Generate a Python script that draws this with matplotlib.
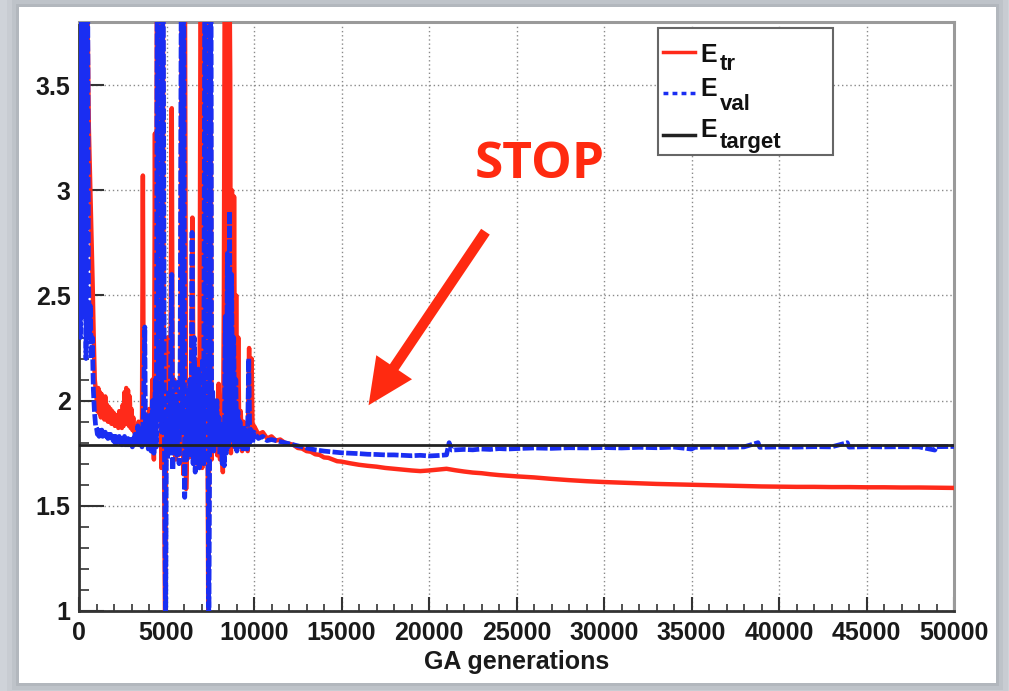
import matplotlib
matplotlib.use("Agg")
import matplotlib.pyplot as plt
from matplotlib.patches import Rectangle, FancyArrowPatch
from matplotlib.ticker import MultipleLocator

plt.rcParams["font.family"] = ["Liberation Sans", "DejaVu Sans"]
plt.rcParams["font.weight"] = "bold"

# ---- data (values above 3.8 run off the top of the frame) ----
TR_X = [0, 400, 560, 720, 780, 840, 900, 960,
        1000, 1050, 1100, 1150, 1200, 1250, 1300, 1350, 1400, 1450, 1500, 1550, 1600, 1650,
        1700, 1750, 1800, 1850, 1900, 1950, 2000, 2050, 2100, 2150, 2200, 2250, 2300, 2350,
        2400, 2450, 2500, 2550, 2600, 2650, 2700, 2750, 2800, 2850, 2900, 2950, 3000, 3050,
        3100, 3150,
        3200, 3300, 3400, 3500, 3600, 3650, 3700, 3800, 3900, 4000, 4100, 4200, 4280, 4340,
        4400, 4460, 4540, 4620, 4700, 4780, 4860, 4920, 4980, 5060, 5140, 5220, 5300, 5360,
        5440, 5520, 5600, 5700, 5800, 5880, 5960, 6040, 6120, 6200, 6300, 6400, 6480, 6560,
        6640, 6720, 6800, 6880, 6960, 7040, 7120, 7200, 7280, 7350, 7390, 7440, 7500, 7580,
        7660, 7740, 7820, 7900, 7980, 8060, 8140, 8220, 8280, 8340, 8420, 8480, 8560, 8640,
        8680, 8740, 8800, 8860, 8920, 8980, 9040, 9100, 9160, 9240, 9320, 9400, 9480, 9560,
        9640, 9720, 9780, 9860, 9920, 10000, 10250, 10500, 10750, 11000, 11250, 11500, 11750,
        12000, 12250, 12500, 12750, 13000, 13250, 13500, 13750, 14000, 14250, 14500, 14750,
        15000, 15500, 16000, 16500, 17000, 17500, 18000, 18500, 19000, 19500, 20000, 20500,
        21000, 21500, 22000, 22500, 23000, 23500, 24000, 24500, 25000, 26000, 27000, 28000,
        29000, 30000, 31000, 32000, 33000, 34000, 35000, 36000, 37000, 38000, 39000, 40000,
        41000, 42000, 43000, 44000, 45000, 46000, 47000, 48000, 49000, 50000]
TR_Y = [4.5, 4.5, 3.3, 2.75, 2.55, 2.3, 2.1, 2.05,
        2.02, 1.95, 2.06, 1.94, 2.04, 1.92, 2.03, 1.93, 2.00, 1.91, 2.02, 1.92, 1.98, 1.90,
        1.97, 1.90, 1.96, 1.89, 1.95, 1.89, 1.94, 1.88, 1.93, 1.88, 1.92, 1.87, 1.95, 1.88,
        1.93, 1.87, 1.98, 1.88, 2.04, 1.90, 2.06, 1.89, 2.05, 1.88, 2.02, 1.87, 1.96, 1.86,
        1.92, 1.85,
        1.86, 1.84, 1.90, 1.82, 1.88, 3.07, 1.83, 1.92, 1.80, 1.96, 1.79, 2.10, 1.72, 3.27,
        1.78, 4.5, 1.95, 4.5, 1.68, 4.5, 1.75, 0.9, 1.95, 2.30, 1.78, 2.00, 3.39, 1.75,
        2.10, 1.72, 2.05, 1.74, 2.15, 4.5, 1.65, 4.5, 1.58, 1.90, 1.73, 2.05, 2.87, 1.75,
        2.20, 1.70, 2.00, 1.72, 4.5, 1.68, 1.95, 1.70, 4.5, 1.80, 0.9, 1.90, 4.5, 1.72,
        1.95, 1.78, 2.00, 1.74, 2.08, 1.72, 1.95, 1.66, 2.50, 4.5, 1.90, 4.5, 4.5, 3.55,
        1.75, 3.00, 1.80, 2.97, 1.78, 2.50, 1.85, 2.30, 1.80, 1.95, 1.76, 1.90, 1.80, 1.88,
        1.76, 2.25, 1.82, 2.20, 1.85, 1.88, 1.84, 1.85, 1.82, 1.83, 1.81, 1.815, 1.80,
        1.795, 1.79, 1.775, 1.772, 1.76, 1.757, 1.745, 1.742, 1.73, 1.728, 1.72, 1.712,
        1.71, 1.702, 1.695, 1.69, 1.686, 1.68, 1.676, 1.672, 1.668, 1.665, 1.668, 1.672,
        1.676, 1.669, 1.663, 1.658, 1.655, 1.65, 1.646, 1.643, 1.64, 1.635, 1.628, 1.622,
        1.617, 1.613, 1.61, 1.607, 1.604, 1.602, 1.60, 1.598, 1.596, 1.594, 1.592, 1.591,
        1.59, 1.59, 1.589, 1.589, 1.588, 1.588, 1.587, 1.587, 1.586, 1.585]

VAL_X = [0, 80, 160, 240, 320, 400, 480, 540, 600, 650, 700, 760, 820, 880, 950,
         1000, 1050, 1100, 1150, 1200, 1250, 1300, 1350, 1400, 1450, 1500, 1550, 1600, 1650,
         1700, 1750, 1800, 1850, 1900, 1950, 2000, 2050, 2100, 2150, 2200, 2250, 2300, 2350,
         2400, 2450, 2500, 2550, 2600, 2650, 2700, 2750, 2800, 2850, 2900, 2950, 3000, 3050,
         3100, 3150,
         3200, 3280, 3360, 3440, 3520, 3600, 3680, 3760, 3800, 3880, 3960, 4040,
         4120, 4200, 4280, 4360, 4420, 4480, 4560, 4640, 4720, 4800, 4880, 4950, 5000, 5060,
         5120, 5180, 5240, 5300, 5360, 5420, 5480, 5540, 5600, 5660, 5720, 5780, 5860, 5920,
         5980, 6040, 6100, 6160, 6220, 6280, 6340, 6400, 6460, 6520, 6580, 6640, 6700, 6760,
         6820, 6880, 6940, 7000, 7060, 7120, 7200, 7260, 7320, 7370, 7420, 7480, 7540, 7580,
         7640, 7700, 7760, 7820, 7880, 7940, 8000, 8060, 8120, 8180, 8240, 8300, 8360, 8420,
         8480, 8540, 8600, 8660, 8720, 8780, 8840, 8900, 8960, 9020, 9080, 9140, 9200, 9260,
         9320, 9380, 9440, 9500, 9560, 9620, 9700, 9760, 9840, 9920, 10000, 10250, 10500,
         10750, 11000, 11500, 12000, 12500, 13000, 13500, 14000, 14500, 15000, 15500, 16000,
         16500, 17000, 17500, 18000, 18500, 19000, 19500, 20000, 20500, 21000, 21150, 21300,
         22000, 22500, 23000, 23500, 24000, 24500, 25000, 26000, 27000, 28000, 29000, 30000,
         31000, 32000, 33000, 34000, 35000, 35200, 36000, 37000, 38000, 38800, 38900, 40000,
         41000, 42000, 43000, 43900, 44000, 45000, 46000, 47000, 48000, 48900, 49000, 50000]
VAL_Y = [4.5, 2.3, 4.5, 2.4, 4.5, 2.2, 4.5, 2.6, 2.3, 2.45, 2.2, 2.3, 2.05, 1.95, 1.88,
         1.87, 1.84, 1.86, 1.83, 1.87, 1.84, 1.86, 1.83, 1.85, 1.82, 1.85, 1.83, 1.84, 1.82,
         1.84, 1.81, 1.84, 1.81, 1.83, 1.81, 1.83, 1.80, 1.83, 1.80, 1.82, 1.80, 1.83, 1.80,
         1.82, 1.79, 1.82, 1.80, 1.83, 1.79, 1.82, 1.79, 1.82, 1.79, 1.83, 1.79, 1.82, 1.78,
         1.82, 1.79,
         1.84, 1.80, 1.88, 1.79, 1.86, 1.78, 1.95, 2.35, 1.80, 1.90, 1.77, 1.93,
         1.76, 2.00, 1.75, 2.10, 1.78, 4.5, 1.90, 4.5, 1.85, 4.5, 1.80, 0.9, 1.95, 1.72,
         2.05, 1.75, 2.20, 2.60, 1.67, 2.00, 1.76, 2.10, 1.74, 1.98, 1.70, 2.20, 4.5, 1.85,
         4.5, 1.54, 1.95, 1.72, 2.05, 1.75, 2.10, 1.73, 2.80, 1.70, 2.30, 1.66, 2.05, 1.72,
         2.15, 1.68, 2.00, 1.75, 2.20, 1.70, 4.5, 1.90, 4.5, 1.80, 0.9, 2.00, 4.5, 1.78,
         2.05, 1.76, 1.95, 1.78, 2.00, 1.80, 1.92, 1.74, 1.88, 1.70, 1.90, 1.69, 2.40, 1.75,
         2.70, 1.78, 2.90, 1.80, 2.60, 1.82, 2.30, 1.78, 2.10, 1.76, 1.95, 1.80, 1.90, 1.78,
         1.86, 1.76, 1.88, 1.78, 1.84, 1.77, 2.20, 1.80, 1.86, 1.80, 1.85, 1.82, 1.83,
         1.81, 1.815, 1.805, 1.795, 1.785, 1.775, 1.766, 1.76, 1.756, 1.752, 1.75, 1.748,
         1.745, 1.744, 1.742, 1.742, 1.74, 1.738, 1.74, 1.737, 1.739, 1.742, 1.80, 1.765,
         1.768, 1.766, 1.77, 1.768, 1.772, 1.77, 1.772, 1.775, 1.773, 1.776, 1.775, 1.777,
         1.775, 1.778, 1.776, 1.779, 1.77, 1.778, 1.779, 1.778, 1.78, 1.80, 1.778, 1.78,
         1.779, 1.781, 1.78, 1.80, 1.779, 1.781, 1.78, 1.781, 1.78, 1.765, 1.781, 1.782]

E_TARGET = 1.79
X_RANGE = (0, 50000)
Y_RANGE = (1.0, 3.8)
LEGEND_SUBS = ["tr", "val", "target"]

RED = "#ff2a1a"
BLUE = "#1a2ef2"
BLACK = "#222222"

fig = plt.figure(figsize=(10.09, 6.91), dpi=100)
fig.patch.set_facecolor("#cfd3d9")
# soft shadow + white card behind the plot (the screenshot frame)
for pad, a in [(0.012, 0.08), (0.007, 0.12), (0.003, 0.18)]:
    fig.patches.append(Rectangle((0.0188 - pad, 0.0116 - pad * 1.46), 0.968 + 2 * pad,
                                 0.978 + 2 * pad * 1.46, transform=fig.transFigure,
                                 facecolor="#7d838b", alpha=a, edgecolor="none", zorder=-3))
fig.patches.append(Rectangle((0.0188, 0.0116), 0.968, 0.978, transform=fig.transFigure,
                             facecolor="white", edgecolor="none", zorder=-2))

ax = fig.add_axes([0.0783, 0.1158, 0.8672, 0.8524])
ax.set_facecolor("white")

val_style = (0, (2.4, 0.5))
ax.plot(TR_X, TR_Y, color=RED, lw=3.2, zorder=3)
ax.plot(VAL_X, VAL_Y, color=BLUE, lw=3.4, linestyle=val_style, zorder=4)
ax.axhline(E_TARGET, color=BLACK, lw=2.0, zorder=5)

ax.set_xlim(*X_RANGE)
ax.set_ylim(*Y_RANGE)
ax.xaxis.set_major_locator(MultipleLocator(5000))
ax.xaxis.set_minor_locator(MultipleLocator(1000))
ax.yaxis.set_major_locator(MultipleLocator(0.5))
ax.yaxis.set_minor_locator(MultipleLocator(0.1))
ax.yaxis.set_major_formatter(plt.FuncFormatter(lambda v, p: f"{v:g}"))

ax.grid(True, which="major", color="#8a8a8a", lw=1.0, linestyle=(0, (1, 2)))
ax.set_axisbelow(True)

ax.tick_params(axis="x", which="major", direction="in", length=10, width=1.5, color="#333",
               labelsize=18, pad=7, labelcolor="#1a1a1a")
ax.tick_params(axis="x", which="minor", direction="in", length=5, width=1.2, color="#333")
ax.tick_params(axis="y", which="major", direction="in", length=18, width=1.5, color="#333",
               labelsize=18, pad=6, labelcolor="#1a1a1a")
ax.tick_params(axis="y", which="minor", direction="in", length=7, width=1.2, color="#333")
for side in ["left", "bottom"]:
    ax.spines[side].set_color("#333")
    ax.spines[side].set_linewidth(2)
for side in ["top", "right"]:
    ax.spines[side].set_color("#9a9a9a")
    ax.spines[side].set_linewidth(2.2)

ax.set_xlabel("GA generations", fontsize=18, fontweight="bold", color="#1a1a1a", labelpad=4)

# ROOT-style legend: box, short line samples, "E" with full-size lowered subscript
ax.add_patch(Rectangle((0.6617, 0.7742), 0.2, 0.2156, transform=ax.transAxes,
                       facecolor="white", edgecolor="#666", lw=1.5, zorder=7))
rows = [(0.949, 0.932, 0.918, RED, "-"), (0.8795, 0.8744, 0.851, BLUE, (0, (1.4, 1.2))),
        (0.808, 0.8048, 0.786, BLACK, "-")]
for sub, (yl, ye, ys, c, ls) in zip(LEGEND_SUBS, rows):
    ax.plot([0.6674, 0.704], [yl, yl], transform=ax.transAxes, color=c, lw=2.5, ls=ls,
            zorder=8, clip_on=False)
    ax.text(0.710, ye, "E", transform=ax.transAxes, fontsize=18, fontweight="bold",
            va="baseline", ha="left", color="#111", zorder=8)
    ax.text(0.7325, ys, sub, transform=ax.transAxes, fontsize=16, fontweight="bold",
            va="baseline", ha="left", color="#111", zorder=8)

# STOP annotation
ax.text(26343, 3.12, "STOP", color="#ff2a10", fontsize=37, fontweight="bold",
        family=["Open Sans", "DejaVu Sans"], ha="center", va="center", zorder=6)
arrow = FancyArrowPatch((23314, 2.814), (16457, 1.967),
                        arrowstyle="simple,head_width=3.1,head_length=3.3,tail_width=0.75",
                        mutation_scale=10, color="#ff2a10", lw=0, zorder=6)
ax.add_patch(arrow)

fig.savefig("out.png", dpi=100, facecolor=fig.get_facecolor())
